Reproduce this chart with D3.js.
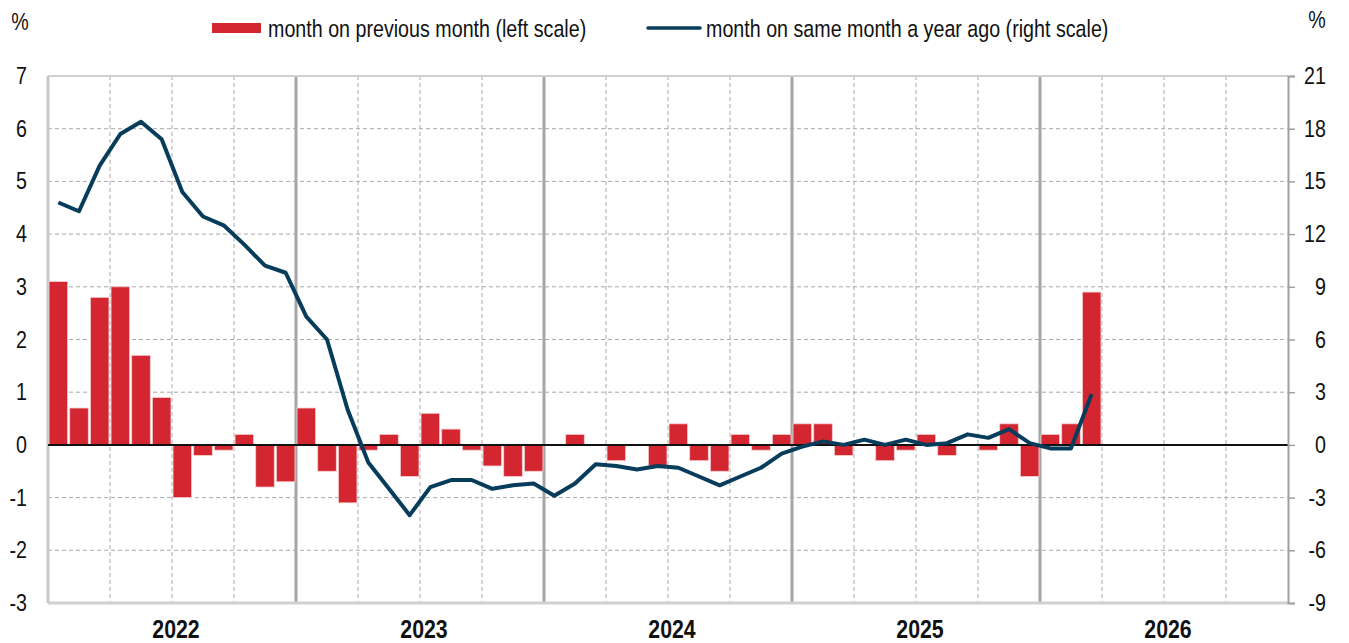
<!DOCTYPE html>
<html>
<head>
<meta charset="utf-8">
<script src="https://cdn.jsdelivr.net/npm/d3@7"></script>
<style>
body { margin: 0; background: #fff; }
text { font-family: "Liberation Sans", Arial, sans-serif; fill: #111; }
</style>
</head>
<body>
<script>
// data: Jan 2022 .. Mar 2026
var years = ["2022", "2023", "2024", "2025", "2026"];
var momValues = [
	3.1, 0.7, 2.8, 3.0, 1.7, 0.9, -1.0, -0.2, -0.1, 0.2, -0.8, -0.7,
	0.7, -0.5, -1.1, -0.1, 0.2, -0.6, 0.6, 0.3, -0.1, -0.4, -0.6, -0.5,
	0.0, 0.2, 0.0, -0.3, 0.0, -0.4, 0.4, -0.3, -0.5, 0.2, -0.1, 0.2,
	0.4, 0.4, -0.2, 0.0, -0.3, -0.1, 0.2, -0.2, 0.0, -0.1, 0.4, -0.6,
	0.2, 0.4, 2.9
];
var yoyValues = [
	13.8, 13.3, 15.9, 17.7, 18.4, 17.4, 14.4, 13.0, 12.5, 11.4, 10.2, 9.8,
	7.3, 6.0, 2.0, -1.0, -2.5, -4.0, -2.4, -2.0, -2.0, -2.5, -2.3, -2.2,
	-2.9, -2.2, -1.1, -1.2, -1.4, -1.2, -1.3, -1.8, -2.3, -1.8, -1.3, -0.5,
	-0.1, 0.2, 0.0, 0.3, 0.0, 0.3, 0.0, 0.1, 0.6, 0.4, 0.9, 0.1,
	-0.2, -0.2, 2.9
];
var leftTicks = [-3, -2, -1, 0, 1, 2, 3, 4, 5, 6, 7];
var rightTicks = [-9, -6, -3, 0, 3, 6, 9, 12, 15, 18, 21];
var seriesNames = ["month on previous month (left scale)", "month on same month a year ago (right scale)"];

var width = 1349, height = 643;
var margin = { top: 76, right: 61, bottom: 40, left: 48 };
var plotW = width - margin.left - margin.right,
	plotH = height - margin.top - margin.bottom;

var red = "#d42631", navy = "#073c5b", grid = "#a9a9a9";
var squeeze = 0.82; // narrow look of the original font

// one slot per month for all five years
var months = d3.range(years.length * 12);

var svg = d3.select("body").append("svg")
	.attr("width", width).attr("height", height);

var g = svg.append("g").attr("transform", "translate(" + margin.left + "," + margin.top + ")");

var x = d3.scaleBand().domain(months).range([0, plotW]).paddingInner(0.1).paddingOuter(0.05);
var xLin = d3.scaleLinear().domain([0, months.length]).range([0, plotW]);
var yL = d3.scaleLinear().domain([-3, 7]).range([plotH, 0]);
var yR = d3.scaleLinear().domain([-9, 21]).range([plotH, 0]);

// put a text at (px,py) and squeeze it horizontally
function narrowText(parent, px, py, str, size, anchor, weight) {
	return parent.append("text")
		.attr("transform", "translate(" + px + "," + py + ") scale(" + squeeze + ",1)")
		.attr("text-anchor", anchor || "start")
		.style("font-size", size + "px")
		.style("font-weight", weight || "normal")
		.text(str);
}

// horizontal grid
g.selectAll(".hgrid").data(leftTicks.filter(function(d) { return d !== 0 && d !== -3 && d !== 7; }))
	.enter().append("line").attr("class", "hgrid")
	.attr("x1", 0).attr("x2", plotW)
	.attr("y1", function(d) { return yL(d); }).attr("y2", function(d) { return yL(d); })
	.attr("stroke", grid).attr("stroke-width", 1).attr("stroke-dasharray", "4,3");

// vertical grid: quarters dashed, years solid
var quarters = d3.range(3, months.length, 3);
g.selectAll(".vgrid").data(quarters).enter().append("line").attr("class", "vgrid")
	.attr("x1", function(d) { return xLin(d); }).attr("x2", function(d) { return xLin(d); })
	.attr("y1", 0).attr("y2", plotH)
	.attr("stroke", function(d) { return d % 12 === 0 ? "#a6a6a6" : grid; })
	.attr("stroke-width", function(d) { return d % 12 === 0 ? 3 : 1; })
	.attr("stroke-dasharray", function(d) { return d % 12 === 0 ? null : "4,3"; });

// frame
g.append("line").attr("x1", 0).attr("x2", plotW).attr("y1", 0).attr("y2", 0)
	.attr("stroke", "#d0d0d0").attr("stroke-width", 2);
g.append("line").attr("x1", 0).attr("x2", plotW).attr("y1", plotH).attr("y2", plotH)
	.attr("stroke", "#d0d0d0").attr("stroke-width", 3);
g.append("line").attr("x1", 0).attr("x2", 0).attr("y1", 0).attr("y2", plotH)
	.attr("stroke", "#c8c8c8").attr("stroke-width", 3);

// bars
g.selectAll(".bar").data(momValues).enter().append("rect").attr("class", "bar")
	.attr("x", function(d, i) { return x(i); })
	.attr("width", x.bandwidth())
	.attr("y", function(d) { return yL(Math.max(0, d)); })
	.attr("height", function(d) { return Math.abs(yL(d) - yL(0)); })
	.attr("fill", red).attr("stroke", "#f4d0d2").attr("stroke-width", 0.8);

// zero line
g.append("line").attr("x1", 0).attr("x2", plotW).attr("y1", yL(0)).attr("y2", yL(0))
	.attr("stroke", "#111").attr("stroke-width", 2);

// yoy line
var line = d3.line()
	.x(function(d, i) { return x(i) + x.bandwidth() / 2; })
	.y(function(d) { return yR(d); });
g.append("path").datum(yoyValues).attr("d", line)
	.attr("fill", "none").attr("stroke", navy).attr("stroke-width", 4)
	.attr("stroke-linejoin", "round");

// left axis labels
g.selectAll(".ltick").data(leftTicks).enter().each(function(d) {
	narrowText(g, -21, yL(d) + 8, d, 24, "end");
});

// right axis
var yAxisR = d3.axisRight(yR).tickValues(rightTicks).tickSize(7).tickFormat("");
var gr = g.append("g").attr("transform", "translate(" + plotW + ",0)").call(yAxisR);
gr.select(".domain").attr("stroke", "#a0a0a0").attr("stroke-width", 2);
gr.selectAll("line").attr("stroke", "#a0a0a0").attr("stroke-width", 1.5);
rightTicks.forEach(function(d) {
	narrowText(g, plotW + 38, yR(d) + 8, d, 24, "end");
});

// year labels
years.forEach(function(d, i) {
	narrowText(g, xLin(i * 12 + 6) + 4, plotH + 35, d, 26, "middle", "bold");
});

// percent signs
narrowText(svg, 20, 30, "%", 24, "middle");
narrowText(svg, 1317, 28, "%", 24, "middle");

// legend
var lg = svg.append("g");
lg.append("rect").attr("x", 212).attr("y", 23).attr("width", 49).attr("height", 10).attr("fill", red);
narrowText(lg, 268, 37, seriesNames[0], 24);
lg.append("line").attr("x1", 648).attr("x2", 700).attr("y1", 28).attr("y2", 28)
	.attr("stroke", navy).attr("stroke-width", 3.5).attr("stroke-linecap", "round");
narrowText(lg, 706, 37, seriesNames[1], 24);
</script>
</body>
</html>
